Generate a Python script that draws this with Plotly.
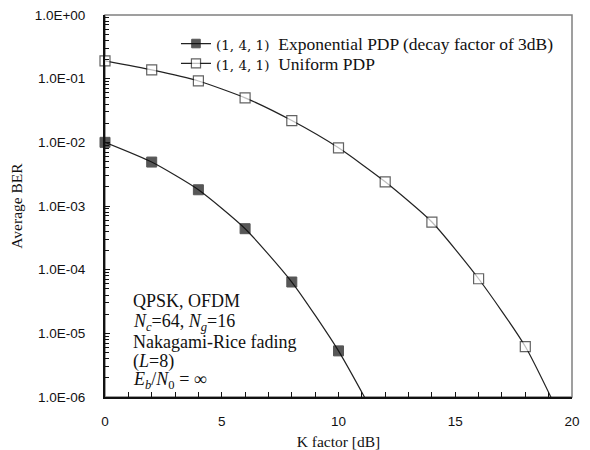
import plotly.graph_objects as go

# K factor [dB]
k_exp = [0, 2, 4, 6, 8, 10, 12]
ber_exp = [1.0e-2, 4.9e-3, 1.8e-3, 4.4e-4, 6.4e-5, 5.3e-6, 2.5e-7]
size_exp = [10, 10, 10, 10, 10, 10, 0]

k_uni = [0, 2, 4, 6, 8, 10, 12, 14, 16, 18, 20]
ber_uni = [0.19, 0.137, 0.092, 0.050, 0.022, 8.2e-3, 2.4e-3, 5.6e-4, 7.2e-5, 6.2e-6, 2.0e-7]
size_uni = [10] * 10 + [0]

label_cfg = '<span style="font-family:DejaVu Serif;font-size:13.5px">(1, 4, 1)</span>'
name_exp = label_cfg + "  Exponential PDP (decay factor of 3dB)"
name_uni = label_cfg + "  Uniform PDP"

ytickvals = [1e0, 1e-1, 1e-2, 1e-3, 1e-4, 1e-5, 1e-6]
yticktext = ["1.0E+00", "1.0E-01", "1.0E-02", "1.0E-03", "1.0E-04", "1.0E-05", "1.0E-06"]
yminor = [m * 10.0 ** e for e in range(-6, 0) for m in range(2, 10)]

info_lines = [
    "QPSK, OFDM",
    "<i>N</i><sub><i>c</i></sub>=64, <i>N</i><sub><i>g</i></sub>=16",
    "Nakagami-Rice fading",
    "(<i>L</i>=8)",
    "<i>E</i><sub><i>b</i></sub>/<i>N</i><sub>0</sub> = ∞",
]
info_y = [0.251, 0.196, 0.144, 0.092, 0.042]

serif = "Liberation Serif"
sans = "Liberation Sans"

fig = go.Figure()
fig.add_trace(go.Scatter(
    x=k_exp, y=ber_exp, name=name_exp, mode="lines+markers", legend="legend",
    line=dict(color="#222", width=1.2, shape="spline", smoothing=0.6),
    marker=dict(symbol="square", size=size_exp, color="#111", line=dict(color="#111", width=1)),
    cliponaxis=False,
))
fig.add_trace(go.Scatter(
    x=k_uni, y=ber_uni, name=name_uni, mode="lines+markers", legend="legend2",
    line=dict(color="#222", width=1.2, shape="spline", smoothing=0.6),
    marker=dict(symbol="square", size=size_uni, color="white", line=dict(color="#222", width=1.2)),
    cliponaxis=False,
))

# gray frame (top/right)
fig.add_shape(type="rect", xref="paper", yref="paper", x0=0, y0=0, x1=1, y1=1,
              line=dict(color="#808080", width=1.5), layer="below")

for txt, yy in zip(info_lines, info_y):
    fig.add_annotation(
        xref="paper", yref="paper", x=0.056, y=yy, xanchor="left", yanchor="middle",
        align="left", showarrow=False, text=txt,
        font=dict(family=serif, size=18, color="#111"),
    )

legend_common = dict(xanchor="left", yanchor="middle", bgcolor="rgba(0,0,0,0)",
                     font=dict(family=serif, size=17.5, color="#111"),
                     itemwidth=30, borderwidth=0)

fig.update_layout(
    width=590, height=450,
    margin=dict(l=105, r=18, t=15, b=53),
    paper_bgcolor="white", plot_bgcolor="white",
    showlegend=True,
    legend=dict(x=0.152, y=0.925, **legend_common),
    legend2=dict(x=0.152, y=0.873, **legend_common),
    xaxis=dict(
        range=[0, 20], dtick=5, showgrid=False, zeroline=False, automargin=False,
        showline=True, linecolor="#111", linewidth=2,
        ticks="inside", ticklen=5, tickcolor="#111", tickwidth=1,
        minor=dict(dtick=1, ticks="inside", ticklen=5, tickcolor="#111"),
        tickfont=dict(family=sans, size=13.5, color="#111"),
        ticklabelstandoff=11,
        title=dict(text="K factor [dB]", font=dict(family=serif, size=15.5, color="#111"), standoff=8),
    ),
    yaxis=dict(
        type="log", range=[-6, 0], showgrid=False, zeroline=False, automargin=False,
        showline=True, linecolor="#111", linewidth=2,
        tickvals=ytickvals, ticktext=yticktext,
        ticks="inside", ticklen=5, tickcolor="#111", tickwidth=1,
        minor=dict(tickvals=yminor, ticks="inside", ticklen=4, tickcolor="#111"),
        tickfont=dict(family=sans, size=13.5, color="#111"),
        ticklabelstandoff=15,
        title=dict(text="Average BER", font=dict(family=serif, size=15.5, color="#111"), standoff=8),
    ),
)

fig.write_html("out.html")
